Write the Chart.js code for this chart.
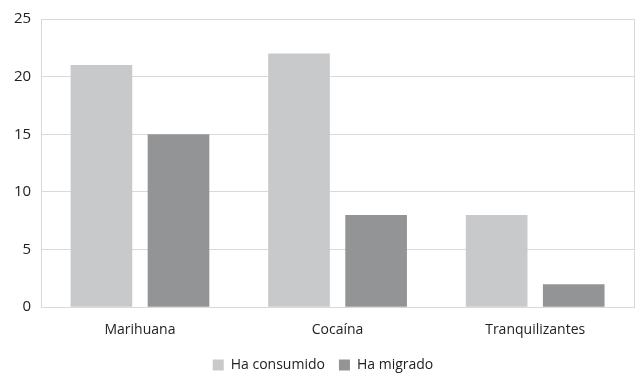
<!DOCTYPE html>
<html lang="es">
<head>
<meta charset="UTF-8">
<script src="https://cdn.jsdelivr.net/npm/chart.js"></script>
<style>
  html, body { margin: 0; padding: 0; background: #fff; }
  #wrap { width: 642px; height: 376px; }
</style>
</head>
<body>
<div id="wrap"><canvas id="barChart" width="642" height="376"></canvas></div>
<script>
const categories = ['Marihuana', 'Cocaína', 'Tranquilizantes'];
const consumido = [21, 22, 8];
const migrado = [15, 8, 2];
const seriesNames = ['Ha consumido', 'Ha migrado'];

const ctx = document.getElementById('barChart');
new Chart(ctx, {
  type: 'bar',
  data: {
    labels: categories,
    datasets: [
      { label: seriesNames[0], data: consumido, backgroundColor: '#c8c9cb', yAxisID: 'y' },
      { label: seriesNames[1], data: migrado, backgroundColor: '#939496', yAxisID: 'y' }
    ]
  },
  options: {
    responsive: false,
    animation: false,
    categoryPercentage: 0.78,
    barPercentage: 0.8,
    layout: { padding: { left: 4, right: 0, top: 9, bottom: -6 } },
    plugins: {
      tooltip: { enabled: false },
      legend: {
        position: 'bottom',
        labels: {
          boxWidth: 11, boxHeight: 11, padding: 14,
          color: '#222', font: { family: 'Open Sans', size: 14 }
        }
      }
    },
    scales: {
      x: {
        grid: { display: false },
        border: { display: true, color: '#d9d9d9' },
        ticks: { color: '#222', padding: 6, font: { family: 'Open Sans', size: 14 } }
      },
      y: {
        min: 0, max: 25,
        ticks: { stepSize: 5, color: '#222', padding: 10, font: { family: 'Open Sans', size: 15 } },
        grid: { color: '#d9d9d9', drawTicks: false },
        border: { display: true, color: '#d9d9d9' }
      },
      yr: {
        position: 'right',
        min: 0, max: 25,
        ticks: { display: false },
        grid: { display: false },
        border: { display: true, color: '#d9d9d9' }
      }
    }
  }
});
</script>
</body>
</html>
